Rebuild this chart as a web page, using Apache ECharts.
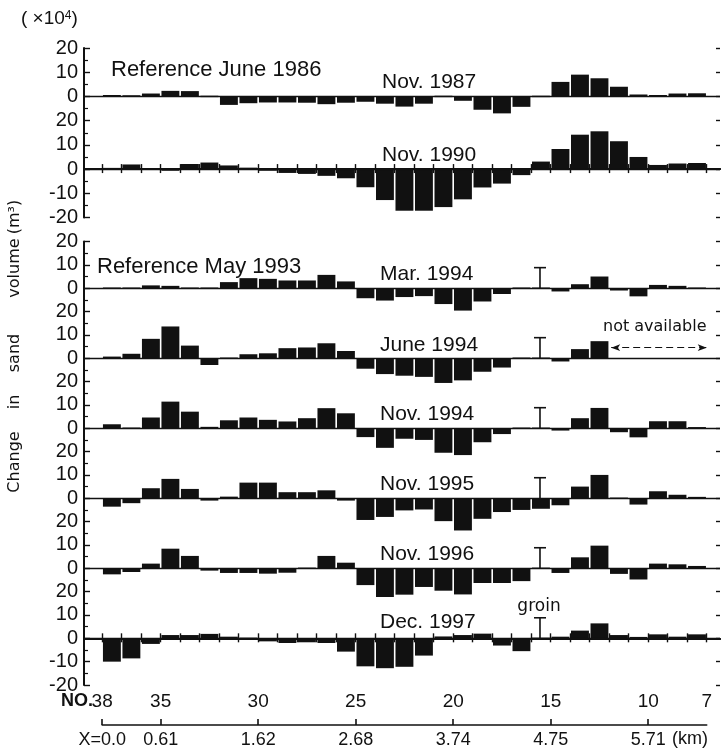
<!DOCTYPE html>
<html>
<head>
<meta charset="utf-8">
<script src="https://cdn.jsdelivr.net/npm/echarts@6/dist/echarts.min.js"></script>
<style>
  html, body { margin: 0; padding: 0; background: #fff; }
  #chart { width: 722px; height: 751px; }
</style>
</head>
<body>
<div id="chart"></div>
<script>
// Survey profile numbers along the coast (NO.38 at X = 0.0 km ... NO.7)
const profiles = [38, 37, 36, 35, 34, 33, 32, 31, 30, 29, 28, 27, 26, 25, 24, 23,
                  22, 21, 20, 19, 18, 17, 16, 15, 14, 13, 12, 11, 10, 9, 8, 7];
const profileLabels = [38, 35, 30, 25, 20, 15, 10, 7];
const kmProfiles = [38, 35, 30, 25, 20, 15, 10];
const kmLabels = ['X=0.0', '0.61', '1.62', '2.68', '3.74', '4.75', '5.71'];

// Change in sand volume between neighbouring profiles (x10^4 m3), 38-37 ... 8-7
// relative to June 1986
const nov1987 = [0.3, 0.2, 1.2, 2.3, 2.2, -0.4, -3.5, -2.8, -2.5, -2.5, -2.6, -3.2, -2.6, -2.2, -3.0, -4.2,
                 -3.0, -0.3, -1.8, -5.5, -7.0, -4.3, 0, 6.0, 9.0, 7.5, 4.0, 0.8, 0.3, 1.2, 1.3];
const nov1990 = [0.2, 1.9, -0.1, -0.7, 2.1, 2.7, 1.5, 0.3, -0.7, -1.6, -2.0, -2.8, -3.8, -7.5, -12.8, -17.2,
                 -17.2, -15.7, -12.5, -7.6, -6.0, -2.5, 3.1, 8.3, 14.2, 15.6, 11.5, 5.0, 1.7, 2.3, 2.5];
// relative to May 1993
const mar1994 = [0, 0, 1.2, 1.0, 0, 0, 2.6, 4.3, 4.0, 3.3, 3.3, 5.7, 2.9, -4.3, -5.3, -3.8,
                 -3.4, -6.8, -9.6, -5.7, -2.5, 0, 0, -1.4, 1.7, 5.0, -1.0, -3.5, 1.4, 1.0, -0.2];
const jun1994 = [0.7, 1.9, 8.3, 13.6, 5.4, -2.9, 0, 1.7, 2.1, 4.3, 4.6, 6.4, 3.1, -4.5, -6.8, -7.5,
                 -8.0, -10.6, -9.5, -5.8, -4.0, 0, 0, -1.4, 3.9, 7.3, null, null, null, null, null];
const nov1994 = [1.7, 0, 4.6, 11.4, 7.1, 0.6, 3.4, 4.6, 3.6, 2.9, 4.3, 8.6, 6.4, -3.8, -8.4, -4.5,
                 -5.0, -10.5, -11.5, -6.0, -2.5, -0.3, 0, -1.0, 4.3, 8.7, -1.7, -3.9, 3.0, 3.0, 0.2];
const nov1995 = [-3.6, -2.1, 4.3, 8.3, 4.0, -1.0, 0.7, 6.7, 6.7, 2.6, 2.6, 3.4, -1.0, -9.3, -8.0, -5.2,
                 -4.8, -9.8, -13.8, -8.8, -5.9, -5.0, -4.5, -3.0, 5.0, 10.0, 0, -2.7, 3.0, 1.5, 0.3];
const nov1996 = [-2.6, -1.6, 2.0, 8.4, 5.3, -1.0, -2.0, -2.0, -2.3, -1.9, 0, 5.3, 2.4, -7.2, -12.3, -11.3,
                 -8.0, -9.6, -11.2, -6.3, -6.3, -5.5, -0.5, -2.0, 4.7, 9.7, -2.4, -4.8, 2.0, 1.7, 1.0];
const dec1997 = [-10.0, -8.6, -2.4, 1.4, 1.4, 1.9, 0.4, -0.3, -1.3, -2.0, -1.7, -2.0, -5.7, -12.0, -12.8, -12.2,
                 -7.4, 0.8, 1.4, 2.0, -3.1, -5.5, 0, 0.7, 3.3, 6.4, 1.4, 0.3, 1.7, 0.7, 1.7];

// groin between NO.16 and NO.15
const groinProfile = 15.55;
const groinMarkHeight = 8.8;

const INK = '#111';
const FONT = 'Liberation Sans, Arial, sans-serif';
const TITLE_FONT = '16px DejaVu Sans, sans-serif';

// each record is drawn on its own zero line, stacked 30 units apart
const BAND_STEP = 30;
const topBands = [
  { title: 'Nov. 1987', values: nov1987 },
  { title: 'Nov. 1990', values: nov1990 }
];
const bottomBands = [
  { title: 'Mar. 1994', values: mar1994 },
  { title: 'June 1994', values: jun1994 },
  { title: 'Nov. 1994', values: nov1994 },
  { title: 'Nov. 1995', values: nov1995 },
  { title: 'Nov. 1996', values: nov1996 },
  { title: 'Dec. 1997', values: dec1997 }
];

function segments(values) {
  const out = [];
  values.forEach((v, i) => {
    if (v !== null) out.push([profiles[i], profiles[i + 1], v]);
  });
  return out;
}

function barRenderer(offset) {
  return function (params, api) {
    const a = api.coord([api.value(0), offset]);
    const b = api.coord([api.value(1), offset + api.value(2)]);
    const x0 = Math.min(a[0], b[0]) + 0.8;
    const x1 = Math.max(a[0], b[0]) - 0.8;
    let y0 = Math.min(a[1], b[1]);
    let y1 = Math.max(a[1], b[1]);
    if (y1 - y0 < 1.4) { y0 -= 0.7; y1 = y0 + 1.4; }
    return { type: 'rect', shape: { x: x0, y: y0, width: x1 - x0, height: y1 - y0 },
             style: { fill: INK } };
  };
}

function groinRenderer(offset) {
  return function (params, api) {
    const base = api.coord([api.value(0), offset]);
    const top = api.coord([api.value(0), offset + api.value(1)]);
    const s = { stroke: INK, lineWidth: 1.6 };
    return { type: 'group', children: [
      { type: 'line', shape: { x1: base[0], y1: base[1], x2: top[0], y2: top[1] }, style: s },
      { type: 'line', shape: { x1: top[0] - 6, y1: top[1], x2: top[0] + 6, y2: top[1] }, style: s }
    ] };
  };
}

function bandSeries(bands, axisIndex, withGroin) {
  const list = [];
  bands.forEach((band, k) => {
    const offset = (bands.length - 1 - k) * BAND_STEP;
    const markData = [{ yAxis: offset }];
    if (band.values.some(v => v === null)) {
      // span without survey data
      const firstMissing = band.values.indexOf(null);
      markData.push([
        { coord: [profiles[firstMissing] - 0.1, offset + 4.5], symbol: 'arrow', symbolSize: [5, 9],
          lineStyle: { type: [7, 4], width: 1, color: INK } },
        { coord: [profiles[profiles.length - 1], offset + 4.5], symbol: 'arrow', symbolSize: [5, 9] }
      ]);
    }
    list.push({
      type: 'custom', name: band.title,
      xAxisIndex: axisIndex, yAxisIndex: axisIndex,
      renderItem: barRenderer(offset),
      encode: { x: [0, 1], y: 2 },
      data: segments(band.values),
      markLine: {
        silent: true, symbol: 'none', label: { show: false },
        lineStyle: { color: INK, width: 1.4, type: 'solid' },
        data: markData
      },
      z: 3
    });
    if (withGroin) {
      list.push({
        type: 'custom', xAxisIndex: axisIndex, yAxisIndex: axisIndex,
        renderItem: groinRenderer(offset),
        data: [[groinProfile, groinMarkHeight]],
        z: 4
      });
    }
  });
  return list;
}

function bandTickLabel(v) {
  if (v <= 20) return String(v);
  return String((v - BAND_STEP) % BAND_STEP);
}

function profileXAxis(gridIndex, position, showLabels) {
  return {
    type: 'value', gridIndex, position, inverse: true,
    min: 6.32, max: 38.93,
    axisLine: { show: true, lineStyle: { color: INK, width: 2 } },
    axisTick: { show: true, inside: true, length: position === 'top' ? 4 : 5,
                customValues: profiles, lineStyle: { color: INK, width: 1.4 } },
    axisLabel: showLabels ? {
      show: true, customValues: profileLabels, color: INK, fontSize: 19,
      fontFamily: FONT, margin: 7
    } : { show: false },
    splitLine: { show: false }
  };
}

function bandYAxes(gridIndex, max) {
  return [{
    type: 'value', gridIndex, position: 'left', min: -20, max, interval: 10,
    axisLine: { show: true, lineStyle: { color: INK, width: 2 } },
    axisTick: { show: true, inside: true, length: 6, lineStyle: { color: INK, width: 1.4 } },
    minorTick: { show: true, splitNumber: 2, length: 4, lineStyle: { color: INK, width: 1.2 } },
    axisLabel: { color: INK, fontSize: 20, fontFamily: FONT, margin: 6,
                 formatter: bandTickLabel },
    splitLine: { show: false }
  }, {
    type: 'value', gridIndex, position: 'right', min: -20, max, interval: 10,
    axisLine: { show: false },
    axisTick: { show: true, inside: true, length: 4, lineStyle: { color: INK, width: 1.4 } },
    axisLabel: { show: false },
    splitLine: { show: false }
  }];
}

function label(text, x, y, size, extra) {
  return {
    type: 'text', x, y,
    style: Object.assign({ text, fill: INK, font: size + 'px ' + FONT,
                           align: 'left', verticalAlign: 'middle' }, extra || {})
  };
}

function verticalWord(text, y) {
  return { type: 'text', x: 15, y, rotation: Math.PI / 2,
           style: { text, fill: INK, font: TITLE_FONT, align: 'center', verticalAlign: 'middle' } };
}

const option = {
  backgroundColor: '#fff',
  animation: false,
  grid: [
    { left: 84, right: 2, top: 48, height: 169.5 },
    { left: 84, right: 2, top: 241.5, height: 443.5 },
    { left: 102.2, right: 15.3, top: 724, height: 1 }
  ],
  xAxis: [
    profileXAxis(0, 'bottom', false),
    profileXAxis(0, 'top', false),
    profileXAxis(1, 'bottom', true),
    profileXAxis(1, 'top', false),
    {
      type: 'value', gridIndex: 2, position: 'bottom', inverse: true, min: 7, max: 38,
      axisLine: { show: true, lineStyle: { color: INK, width: 1.6 } },
      axisTick: { show: true, inside: true, length: 6, customValues: kmProfiles,
                  lineStyle: { color: INK, width: 1.6 } },
      axisLabel: { show: true, customValues: kmProfiles, color: INK, fontSize: 18,
                   fontFamily: FONT, margin: 6,
                   formatter: v => kmLabels[kmProfiles.indexOf(v)] },
      splitLine: { show: false }
    }
  ],
  yAxis: [
    ...bandYAxes(0, 20 + BAND_STEP * (topBands.length - 1)),
    ...bandYAxes(1, 20 + BAND_STEP * (bottomBands.length - 1)),
    { type: 'value', gridIndex: 2, show: false, min: 0, max: 1 }
  ],
  series: [
    ...bandSeries(topBands, 0, false),
    ...bandSeries(bottomBands, 2, true)
  ],
  graphic: [
    { type: 'text', x: 21, y: 19,
      style: { text: '{a|( ×10}{s|4}{a|)}', fill: INK, verticalAlign: 'middle',
               rich: { a: { fontSize: 19, fontFamily: FONT, fill: INK },
                       s: { fontSize: 12, fontFamily: FONT, fill: INK, verticalAlign: 'top' } } } },
    label('Reference June 1986', 111, 70, 22),
    label('Nov. 1987', 382, 82, 21),
    label('Nov. 1990', 382, 155, 21),
    label('Reference May 1993', 97, 267, 22),
    label('Mar. 1994', 380, 274, 21),
    label('June 1994', 380, 345, 21),
    label('Nov. 1994', 380, 414, 21),
    label('Nov. 1995', 380, 484, 21),
    label('Nov. 1996', 380, 554, 21),
    label('Dec. 1997', 380, 622, 21),
    label('not available', 603, 327, 16, { font: '16px DejaVu Sans, sans-serif' }),
    label('groin', 539, 607, 17, { font: '17px DejaVu Sans, sans-serif', align: 'center' }),
    label('NO.', 61, 701, 18, { font: 'bold 18px ' + FONT }),
    label('(km)', 672, 739, 18),
    // vertical axis title, read bottom to top
    verticalWord('Change', 462),
    verticalWord('in', 402),
    verticalWord('sand', 353),
    verticalWord('volume', 268),
    verticalWord('(m³)', 217)
  ]
};

const chart = echarts.init(document.getElementById('chart'), null, { renderer: 'canvas' });
chart.setOption(option);
</script>
</body>
</html>
